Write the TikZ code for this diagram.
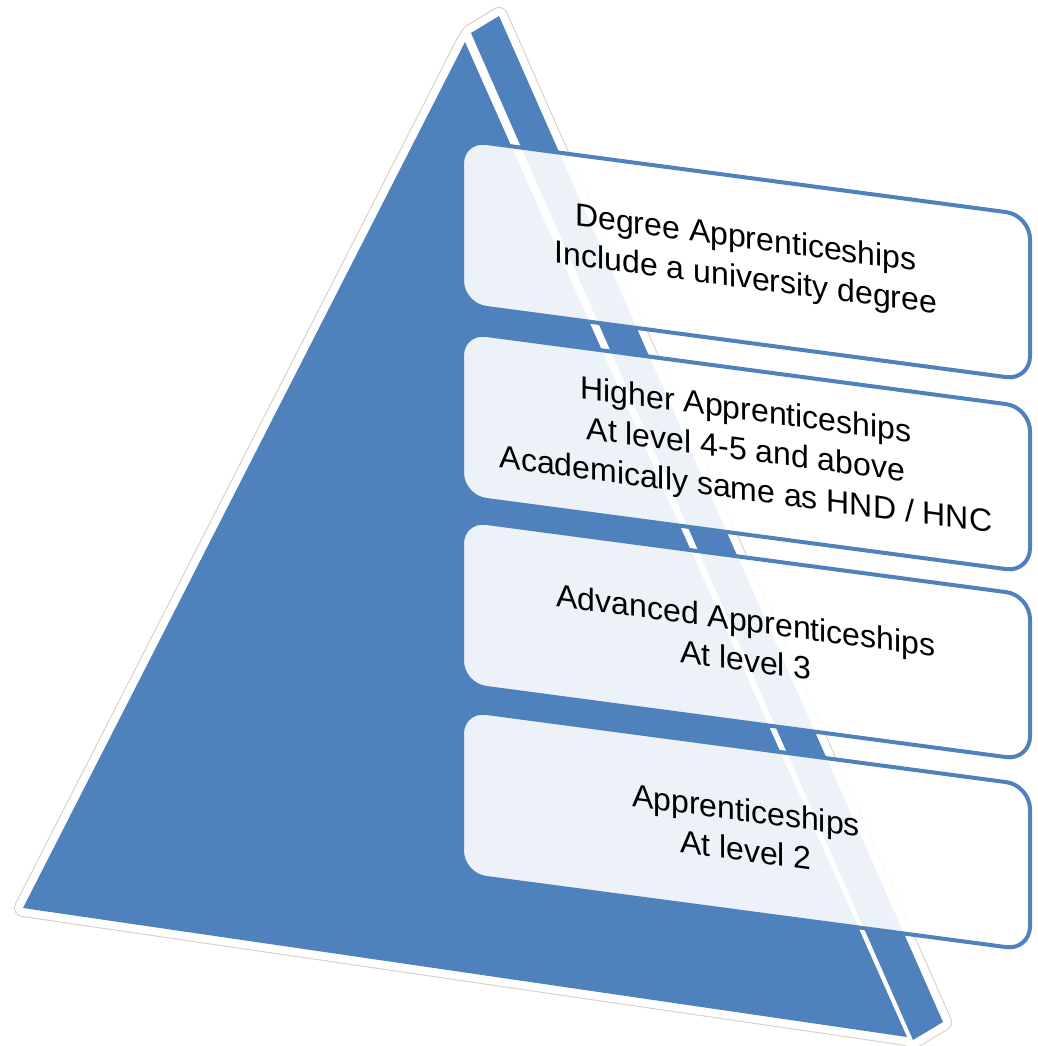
\documentclass[tikz,border=0pt]{standalone}
\usepackage{fontspec}
\setmainfont{Liberation Sans}
\definecolor{pyrblue}{RGB}{79,129,189}
\definecolor{rimtan}{RGB}{214,204,194}
\begin{document}
\begin{tikzpicture}[x=1pt,y=1pt,
  rim/.style={line join=round},
  tier/.style={draw=pyrblue, line width=4pt, fill=white, fill opacity=0.9,
    text opacity=1, rounded corners=24pt, minimum width=568pt,
    minimum height=165pt, align=center, inner sep=0pt, transform shape,
    font=\fontsize{32}{40}\selectfont}]
\useasboundingbox (0,0) rectangle (1037,-1046);
% pyramid corners
\coordinate (A) at (465,-42);
\coordinate (B) at (23,-908);
\coordinate (C) at (907,-1037);
\coordinate (D) at (471,-33);
\coordinate (E) at (499,-16);
\coordinate (F) at (943,-1022);
\coordinate (G) at (913,-1040);
% rim
\path[rim, draw=rimtan, line width=18pt] (B) -- (A) -- (D) -- (E) -- (F) -- (G) -- (C) -- cycle;
\path[rim, draw=white, line width=16pt, fill=white] (B) -- (A) -- (D) -- (E) -- (F) -- (G) -- (C) -- cycle;
% faces
\fill[pyrblue] (A) -- (B) -- (C) -- cycle;
\fill[pyrblue] (D) -- (E) -- (F) -- (G) -- cycle;
% tiers
\begin{scope}[shift={(746,-260)}, yslant=-0.133]
  \node[tier] (deg) at (0,0) {Degree Apprenticeships\\Include a university degree};
\end{scope}
\begin{scope}[shift={(746,-452)}, yslant=-0.133]
  \node[tier] (high) at (0,0) {Higher Apprenticeships\\At level 4-5 and above\\Academically same as HND / HNC};
\end{scope}
\begin{scope}[shift={(746,-640)}, yslant=-0.133]
  \node[tier] (adv) at (0,0) {Advanced Apprenticeships\\At level 3};
\end{scope}
\begin{scope}[shift={(746,-830)}, yslant=-0.133]
  \node[tier] (app) at (0,0) {Apprenticeships\\At level 2};
\end{scope}
\end{tikzpicture}
\end{document}
